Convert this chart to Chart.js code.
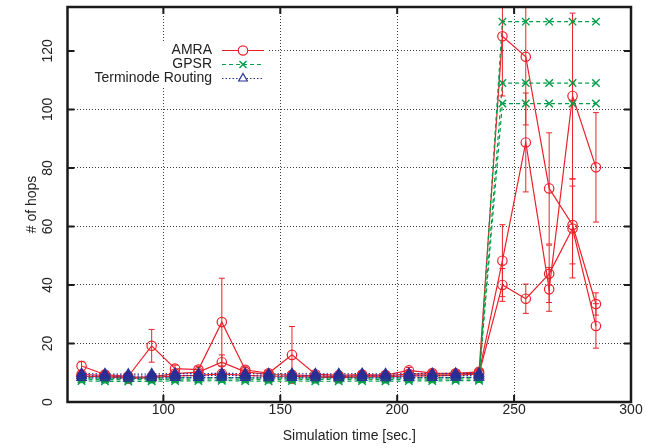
<!DOCTYPE html>
<html>
<head>
<meta charset="utf-8">
<script src="https://cdn.jsdelivr.net/npm/chart.js@4.4.1/dist/chart.umd.min.js"></script>
<style>
  html, body { margin: 0; padding: 0; background: #fff; }
  canvas { display: block; }
</style>
</head>
<body>
<canvas id="hops" width="646" height="448"></canvas>
<script>
// Simulation times (seconds) at which the hop counts were sampled
const times = [65, 75, 85, 95, 105, 115, 125, 135, 145, 155, 165, 175, 185, 195, 205, 215, 225, 235, 245, 255, 265, 275, 285];

// Axis ticks
const xTicks = [100, 150, 200, 250, 300];
const yTicks = [0, 20, 40, 60, 80, 100, 120];

const seriesNames = ['AMRA', 'GPSR', 'Terminode Routing'];

// AMRA, three scenarios (mean number of hops and half-width of the error bar)
const amraA    = [12.3, 9.4, 8.8, 19.2, 11.4, 11.1, 27.3, 11.0, 9.8, 16.1, 9.5, 9.1, 9.4, 9.2, 10.8, 9.9, 9.8, 10.3, 125.0, 118.0, 73.0, 60.5, 33.5];
const amraAErr = [1.6, 0.8, 0.8, 5.6, 1.2, 1.0, 15.0, 1.0, 0.9, 9.7, 0.8, 0.8, 0.8, 0.8, 1.0, 0.9, 0.9, 1.0, 20.4, 23.3, 19.0, 13.3, 3.8];
const amraB    = [9.4, 9.1, 8.4, 8.6, 9.7, 10.2, 13.6, 10.3, 9.4, 9.3, 8.9, 8.7, 9.0, 8.9, 9.6, 9.5, 9.5, 9.9, 48.3, 88.7, 38.5, 104.6, 80.2];
const amraBErr = [0.8, 0.8, 0.7, 0.7, 0.8, 0.9, 2.5, 0.9, 0.8, 0.8, 0.7, 0.7, 0.8, 0.7, 0.8, 0.8, 0.8, 0.8, 12.3, 16.9, 7.5, 28.3, 18.7];
const amraC    = [8.8, 8.7, 8.1, 8.3, 8.9, 9.1, 9.6, 9.1, 8.8, 8.8, 8.5, 8.3, 8.6, 8.6, 8.9, 8.9, 9.1, 9.6, 40.0, 35.3, 43.8, 59.3, 26.0];
const amraCErr = [0.7, 0.7, 0.7, 0.7, 0.7, 0.7, 0.8, 0.7, 0.7, 0.7, 0.7, 0.7, 0.7, 0.7, 0.7, 0.7, 0.7, 0.7, 5.6, 5.0, 9.8, 16.9, 7.6];

// GPSR, three scenarios
const gpsrA    = [7.2, 7.1, 7.0, 7.1, 7.2, 7.2, 7.3, 7.2, 7.1, 7.2, 7.1, 7.1, 7.2, 7.1, 7.2, 7.2, 7.3, 7.3, 130, 130, 130, 130, 130];
const gpsrB    = [7.8, 7.7, 7.6, 7.7, 7.8, 7.8, 7.9, 7.8, 7.7, 7.8, 7.7, 7.7, 7.8, 7.7, 7.8, 7.8, 7.9, 7.9, 109, 109, 109, 109, 109];
const gpsrC    = [8.3, 8.2, 8.1, 8.2, 8.3, 8.3, 8.4, 8.3, 8.2, 8.3, 8.2, 8.2, 8.3, 8.2, 8.3, 8.3, 8.4, 8.4, 102, 102, 102, 102, 102];
const gpsrErr  = [0.6, 0.6, 0.6, 0.6, 0.6, 0.6, 0.6, 0.6, 0.6, 0.6, 0.6, 0.6, 0.6, 0.6, 0.6, 0.6, 0.6, 0.6, 0, 0, 0, 0, 0];

// Terminode Routing, three scenarios (no samples after 235 s)
const termA    = [8.3, 8.2, 8.1, 8.2, 8.3, 8.3, 8.4, 8.3, 8.2, 8.3, 8.2, 8.2, 8.3, 8.2, 8.3, 8.3, 8.4, 8.4, null, null, null, null, null];
const termB    = [9.0, 8.9, 8.8, 8.9, 9.0, 9.0, 9.1, 9.0, 8.9, 9.0, 8.9, 8.9, 9.0, 8.9, 9.0, 9.0, 9.1, 9.1, null, null, null, null, null];
const termC    = [9.7, 9.6, 9.5, 9.6, 9.7, 9.7, 9.8, 9.7, 9.6, 9.7, 9.6, 9.6, 9.7, 9.6, 9.7, 9.7, 9.8, 9.8, null, null, null, null, null];
const termErr  = [0.6, 0.6, 0.6, 0.6, 0.6, 0.6, 0.6, 0.6, 0.6, 0.6, 0.6, 0.6, 0.6, 0.6, 0.6, 0.6, 0.6, 0.6, 0, 0, 0, 0, 0];

const RED = 'rgb(236,32,42)';
const GREEN = 'rgb(0,158,72)';
const BLUE = 'rgb(40,46,150)';
const FONT = '"Liberation Sans", Arial, Helvetica, sans-serif';
const INK = '#222';

const points = vals => times.map((t, i) => ({ x: t, y: vals[i] }));

function amra(vals, errs, first) {
  return {
    label: seriesNames[0], group: 0, key: first, data: points(vals), errors: errs,
    borderColor: RED, borderWidth: 1.2, borderDash: [],
    pointStyle: 'circle', pointRadius: 4.7, pointBorderWidth: 1.2,
    pointBorderColor: RED, pointBackgroundColor: 'rgba(0,0,0,0)', order: 2
  };
}
function gpsr(vals, errs, first) {
  return {
    label: seriesNames[1], group: 1, key: first, data: points(vals), errors: errs,
    borderColor: GREEN, borderWidth: 1.2, borderDash: [4, 3],
    pointStyle: 'crossRot', pointRadius: 5.3, pointBorderWidth: 1.4,
    pointBorderColor: GREEN, pointBackgroundColor: GREEN, order: 1
  };
}
function term(vals, errs, first) {
  return {
    label: seriesNames[2], group: 2, key: first, data: points(vals), errors: errs,
    borderColor: BLUE, borderWidth: 1.2, borderDash: [1.5, 2],
    pointStyle: 'triangle', pointRadius: 5.5, pointBorderWidth: 1.2,
    pointBorderColor: BLUE, pointBackgroundColor: 'rgba(40,46,150,0.6)', order: 0
  };
}

// Frame, inward ticks, error bars and the key
const decorations = {
  id: 'decorations',
  beforeDatasetsDraw(chart) {
    const { ctx, chartArea: a, scales } = chart;
    // Key area is opaque over the grid
    ctx.save();
    ctx.fillStyle = '#fff';
    ctx.fillRect(a.left + 1, 43, 268 - a.left, 43);
    ctx.restore();

    // Error bars
    ctx.save();
    ctx.beginPath();
    ctx.rect(a.left, a.top, a.right - a.left, a.bottom - a.top);
    ctx.clip();
    ctx.setLineDash([]);
    ctx.lineWidth = 1;
    chart.data.datasets.forEach(ds => {
      if (!ds.errors) return;
      ctx.strokeStyle = ds.borderColor;
      ds.data.forEach((p, i) => {
        const e = ds.errors[i];
        if (p.y == null || !e) return;
        const px = scales.x.getPixelForValue(p.x);
        const lo = scales.y.getPixelForValue(p.y - e);
        const hi = scales.y.getPixelForValue(p.y + e);
        ctx.beginPath();
        ctx.moveTo(px, lo); ctx.lineTo(px, hi);
        ctx.moveTo(px - 3, lo); ctx.lineTo(px + 3, lo);
        ctx.moveTo(px - 3, hi); ctx.lineTo(px + 3, hi);
        ctx.stroke();
      });
    });
    ctx.restore();
  },
  afterDraw(chart) {
    const { ctx, chartArea: a, scales } = chart;
    ctx.save();
    ctx.setLineDash([]);
    ctx.strokeStyle = '#1a1a1a';

    // Ticks pointing into the plot on all four sides
    ctx.lineWidth = 2;
    const len = 7;
    ctx.beginPath();
    scales.x.ticks.forEach(t => {
      const px = scales.x.getPixelForValue(t.value);
      if (px <= a.left + 1 || px >= a.right - 1) return;
      ctx.moveTo(px, a.bottom); ctx.lineTo(px, a.bottom - len);
      ctx.moveTo(px, a.top); ctx.lineTo(px, a.top + len);
    });
    scales.y.ticks.forEach(t => {
      const py = scales.y.getPixelForValue(t.value);
      if (py <= a.top + 1 || py >= a.bottom - 1) return;
      ctx.moveTo(a.left, py); ctx.lineTo(a.left + len, py);
      ctx.moveTo(a.right, py); ctx.lineTo(a.right - len, py);
    });
    ctx.stroke();

    // Plot border
    ctx.lineWidth = 2.5;
    ctx.strokeRect(a.left, a.top, a.right - a.left, a.bottom - a.top);

    // Key: right-aligned names, then a line sample with its marker
    const rowY = [50.5, 64.5, 78.5];
    const textRight = 212, s0 = 222, s1 = 264, mx = 243;
    ctx.font = '14px ' + FONT;
    ctx.textAlign = 'right';
    ctx.textBaseline = 'middle';
    chart.data.datasets.filter(d => d.key).forEach(ds => {
      const y = rowY[ds.group];
      ctx.fillStyle = INK;
      ctx.fillText(ds.label, textRight, y);
      ctx.strokeStyle = ds.borderColor;
      ctx.lineWidth = ds.borderWidth;
      ctx.setLineDash(ds.borderDash);
      ctx.beginPath();
      ctx.moveTo(s0, y); ctx.lineTo(s1, y);
      ctx.stroke();
      ctx.setLineDash([]);
      ctx.fillStyle = '#fff';
      ctx.lineWidth = ds.pointBorderWidth;
      Chart.helpers.drawPoint(ctx, {
        pointStyle: ds.pointStyle, radius: Math.min(ds.pointRadius, 5), rotation: 0, borderWidth: ds.pointBorderWidth
      }, mx, y);
    });
    ctx.restore();
  }
};

const tickFont = { family: FONT, size: 14 };

new Chart(document.getElementById('hops'), {
  type: 'line',
  data: {
    datasets: [
      amra(amraA, amraAErr, true), amra(amraB, amraBErr, false), amra(amraC, amraCErr, false),
      gpsr(gpsrA, gpsrErr, true), gpsr(gpsrB, gpsrErr, false), gpsr(gpsrC, gpsrErr, false),
      term(termA, termErr, true), term(termB, termErr, false), term(termC, termErr, false)
    ]
  },
  options: {
    responsive: false,
    animation: false,
    devicePixelRatio: 1,
    events: [],
    layout: { padding: { top: 7, right: 15, left: 0, bottom: 0 } },
    elements: { line: { tension: 0, fill: false } },
    plugins: { legend: { display: false }, tooltip: { enabled: false } },
    scales: {
      x: {
        type: 'linear', min: 59, max: 300,
        afterBuildTicks: s => { s.ticks = xTicks.map(v => ({ value: v })); },
        afterFit: s => { s.height = 46; s.paddingLeft = 0; s.paddingRight = 0; },
        grid: { color: 'rgba(0,0,0,0.75)', lineWidth: 1, drawTicks: false },
        border: { display: false, dash: [1, 2] },
        ticks: { maxRotation: 0, minRotation: 0, padding: 0, color: INK, font: tickFont },
        title: { display: true, text: 'Simulation time [sec.]', color: INK, font: tickFont, padding: { top: 0, bottom: 3 } }
      },
      y: {
        type: 'linear', min: 0, max: 135,
        afterBuildTicks: s => { s.ticks = yTicks.map(v => ({ value: v })); },
        afterFit: s => { s.width = 67.5; s.paddingTop = 0; s.paddingBottom = 0; },
        grid: { color: 'rgba(0,0,0,0.75)', lineWidth: 1, drawTicks: false },
        border: { display: false, dash: [1, 2] },
        ticks: { minRotation: 90, maxRotation: 90, crossAlign: 'center', padding: 8, color: INK, font: tickFont },
        title: { display: true, text: '# of hops', color: INK, font: tickFont, padding: { top: 23.5, bottom: 0 } }
      }
    }
  },
  plugins: [decorations]
});
</script>
</body>
</html>
